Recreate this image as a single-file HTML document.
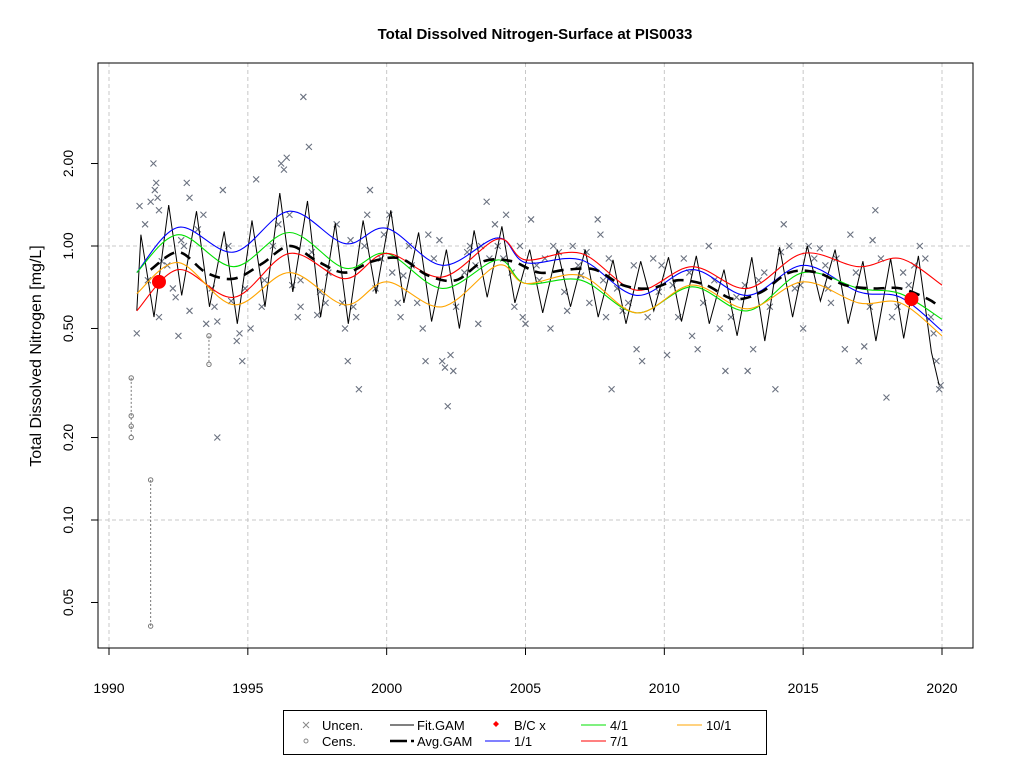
<!DOCTYPE html>
<html><head><meta charset="utf-8"><style>
body{margin:0;background:#fff;}
svg{display:block;font-family:"Liberation Sans",Arial,sans-serif;}
</style></head><body>
<svg id="chart" width="1024" height="768" viewBox="0 0 1024 768"></svg>
<script>
const xTicks=[1990,1995,2000,2005,2010,2015,2020];
const yTicks=[0.05,0.10,0.20,0.50,1.00,2.00];
const yTickLabels=["0.05","0.10","0.20","0.50","1.00","2.00"];
const uncen=[[1991.0,0.48],[1991.1,1.4],[1991.3,1.2],[1991.4,0.75],[1991.5,1.45],[1991.6,2.0],[1991.65,1.6],[1991.7,1.7],[1991.75,1.5],[1991.8,1.35],[1991.8,0.55],[1991.9,0.88],
[1992.1,0.85],[1992.3,0.7],[1992.4,0.65],[1992.5,0.47],[1992.6,1.05],[1992.7,1.0],[1992.8,1.7],[1992.9,1.5],[1992.9,0.58],
[1993.2,1.15],[1993.4,1.3],[1993.5,0.52],[1993.7,0.7],[1993.8,0.6],[1993.9,0.53],[1993.9,0.2],
[1994.1,1.6],[1994.3,1.0],[1994.4,0.63],[1994.6,0.45],[1994.7,0.48],[1994.8,0.38],[1994.9,0.7],
[1995.1,0.5],[1995.3,1.75],[1995.6,0.75],[1995.9,1.0],[1995.5,0.6],
[1996.1,1.2],[1996.2,2.0],[1996.3,1.9],[1996.4,2.1],[1996.5,1.3],[1996.6,0.72],[1996.8,0.55],[1996.9,0.6],[1996.9,0.75],
[1997.0,3.5],[1997.2,2.3],[1997.3,0.95],[1997.5,0.56],[1997.6,0.68],[1997.8,0.62],[1997.9,0.8],
[1998.2,1.2],[1998.4,0.62],[1998.5,0.5],[1998.6,0.38],[1998.7,1.05],[1998.8,0.6],[1998.9,0.55],
[1999.0,0.3],[1999.2,1.0],[1999.3,1.3],[1999.4,1.6],[1999.6,0.7],[1999.8,0.9],[1999.9,1.1],
[2000.1,1.3],[2000.2,0.8],[2000.4,0.62],[2000.5,0.55],[2000.6,0.78],[2000.8,1.0],[2000.9,0.85],
[2001.1,0.62],[2001.3,0.5],[2001.4,0.38],[2001.5,1.1],[2001.7,0.9],[2001.9,1.05],
[2002.0,0.38],[2002.1,0.36],[2002.2,0.26],[2002.3,0.4],[2002.4,0.35],[2002.5,0.6],[2002.8,0.8],[2002.9,0.95],
[2003.0,1.0],[2003.2,0.85],[2003.3,0.52],[2003.4,1.0],[2003.6,1.45],[2003.7,0.9],[2003.9,1.2],
[2004.0,1.0],[2004.2,0.9],[2004.3,1.3],[2004.5,0.8],[2004.6,0.6],[2004.8,1.0],[2004.9,0.55],
[2005.0,0.52],[2005.2,1.25],[2005.4,0.85],[2005.5,0.75],[2005.7,0.9],[2005.9,0.5],
[2006.0,1.0],[2006.2,0.95],[2006.4,0.68],[2006.5,0.58],[2006.7,1.0],[2006.9,0.85],
[2007.0,0.78],[2007.2,0.95],[2007.3,0.62],[2007.6,1.25],[2007.7,1.1],[2007.8,0.75],[2007.9,0.55],
[2008.0,0.9],[2008.1,0.3],[2008.3,0.7],[2008.5,0.58],[2008.7,0.62],[2008.9,0.85],
[2009.0,0.42],[2009.2,0.38],[2009.4,0.55],[2009.6,0.9],[2009.8,0.68],[2009.9,0.85],
[2010.1,0.4],[2010.3,0.72],[2010.5,0.55],[2010.7,0.9],[2010.9,0.8],
[2011.0,0.47],[2011.2,0.42],[2011.4,0.62],[2011.6,1.0],[2011.8,0.75],
[2012.0,0.5],[2012.2,0.35],[2012.4,0.55],[2012.6,0.65],[2012.9,0.72],
[2013.0,0.35],[2013.2,0.42],[2013.4,0.75],[2013.6,0.8],[2013.8,0.6],
[2014.0,0.3],[2014.2,0.95],[2014.3,1.2],[2014.5,1.0],[2014.7,0.7],[2014.9,0.72],
[2015.0,0.5],[2015.2,1.0],[2015.4,0.9],[2015.6,0.98],[2015.8,0.85],[2015.9,0.7],
[2016.0,0.62],[2016.2,0.9],[2016.5,0.42],[2016.7,1.1],[2016.9,0.8],
[2017.0,0.38],[2017.2,0.43],[2017.4,0.6],[2017.5,1.05],[2017.6,1.35],[2017.8,0.9],
[2018.0,0.28],[2018.2,0.55],[2018.4,0.6],[2018.6,0.8],[2018.8,0.72],
[2019.0,0.85],[2019.2,1.0],[2019.4,0.9],[2019.6,0.55],[2019.7,0.48],[2019.8,0.38],[2019.9,0.3],[2019.95,0.31]];
const censGroups=[[1990.8,[0.33,0.24,0.22,0.20]],[1991.5,[0.14,0.041]],[1993.6,[0.47,0.37]]];
const bcPoints=[[1991.8,0.74],[2018.9,0.64]];
const fitYears=[1991,1992,1993,1994,1995,1996,1997,1998,1999,2000,2001,2002,2003,2004,2005,2006,2007,2008,2009,2010,2011,2012,2013,2014,2015,2016,2017,2018,2019];
const fitPeaks=[1.1,1.41,1.34,1.13,1.24,1.56,1.46,1.21,1.24,1.35,1.12,0.97,1.14,1.18,0.97,0.97,0.97,0.89,0.88,0.91,0.92,0.82,0.91,0.99,1.0,0.97,0.88,0.9,0.92];
const fitTroughs=[0.55,0.66,0.6,0.52,0.6,0.68,0.55,0.52,0.67,0.62,0.53,0.5,0.65,0.62,0.57,0.6,0.55,0.52,0.58,0.53,0.52,0.47,0.45,0.55,0.63,0.52,0.45,0.46,0.41];
const fitStart=[1991.0,0.58];
const fitEnd=[2019.9,0.31];
const avgYears=[1991.5,1992.5,1993.5,1994.5,1995.5,1996.5,1997.5,1998.5,1999.5,2000.5,2001.5,2002.5,2003.5,2004.5,2005.5,2006.5,2007.5,2008.5,2009.5,2010.5,2011.5,2012.5,2013.5,2014.5,2015.5,2016.5,2017.5,2018.5,2019.5,2019.9];
const avgVals=[0.82,0.95,0.80,0.76,0.86,1.0,0.88,0.80,0.88,0.90,0.78,0.75,0.88,0.88,0.80,0.82,0.82,0.72,0.70,0.75,0.72,0.64,0.68,0.80,0.80,0.72,0.70,0.70,0.64,0.60];
const qYears=[1991,1992.5,1994.5,1996.5,1998.5,2000,2002,2004,2005,2007,2009,2011,2013,2015,2017,2018.5,2020];
const q1=[0.80,1.17,0.95,1.34,1.02,1.16,0.85,1.07,0.87,0.89,0.66,0.82,0.66,0.85,0.68,0.65,0.49];
const q4=[0.80,1.10,0.84,1.12,0.83,0.94,0.70,0.89,0.73,0.75,0.57,0.71,0.58,0.80,0.70,0.67,0.54];
const q7=[0.58,0.82,0.65,0.94,0.76,0.94,0.77,1.06,0.89,0.94,0.69,0.84,0.70,0.94,0.84,0.90,0.72];
const q10=[0.67,0.87,0.61,0.80,0.61,0.74,0.60,0.85,0.73,0.78,0.57,0.72,0.59,0.74,0.62,0.62,0.47];

const NS="http://www.w3.org/2000/svg";
const svg=document.getElementById('chart');
const X=y=>109+(y-1990)*(833/30);
const Y=v=>246-Math.log10(v)*274;
function mk(tag,attrs,parent){const e=document.createElementNS(NS,tag);for(const k in attrs)e.setAttribute(k,attrs[k]);(parent||svg).appendChild(e);return e;}
function smooth(pts){let d=`M${pts[0][0]},${pts[0][1]}`;for(let i=0;i<pts.length-1;i++){const p0=pts[i-1]||pts[i],p1=pts[i],p2=pts[i+1],p3=pts[i+2]||p2;const c1=[p1[0]+(p2[0]-p0[0])/6,p1[1]+(p2[1]-p0[1])/6],c2=[p2[0]-(p3[0]-p1[0])/6,p2[1]-(p3[1]-p1[1])/6];d+=`C${c1[0].toFixed(1)},${c1[1].toFixed(1)} ${c2[0].toFixed(1)},${c2[1].toFixed(1)} ${p2[0].toFixed(1)},${p2[1].toFixed(1)}`;}return d;}

let t=mk('text',{x:535,y:39,'text-anchor':'middle','font-size':15,'font-weight':'bold'});t.textContent='Total Dissolved Nitrogen-Surface at PIS0033';

xTicks.forEach(v=>{const g=mk('line',{x1:X(v),x2:X(v),y1:63,y2:648,stroke:'#c8c8c8','stroke-dasharray':'4,3'});
});
[0.1,1.0].forEach(v=>{const g=mk('line',{x1:98,x2:973,y1:Y(v),y2:Y(v),stroke:'#c8c8c8','stroke-dasharray':'4,3'});
});
const box=mk('rect',{x:98,y:63,width:875,height:585,fill:'none',stroke:'#000'});

xTicks.forEach(v=>{mk('line',{x1:X(v),x2:X(v),y1:648,y2:655,stroke:'#000'});
const l=mk('text',{x:X(v),y:693,'text-anchor':'middle','font-size':14});l.textContent=v;
});
yTicks.forEach((v,i)=>{mk('line',{x1:91,x2:98,y1:Y(v),y2:Y(v),stroke:'#000'});
const l=mk('text',{x:0,y:0,'text-anchor':'middle','font-size':14,transform:`translate(73,${Y(v)}) rotate(-90)`});l.textContent=yTickLabels[i];
});
t=mk('text',{x:0,y:0,'text-anchor':'middle','font-size':16,transform:'translate(41,356) rotate(-90)'});t.textContent='Total Dissolved Nitrogen [mg/L]';


const pg=mk('g',{stroke:'#6b7280','stroke-width':1.1});

uncen.forEach(p=>{const cx=X(p[0]),cy=Y(p[1]);mk('path',{d:`M${cx-3},${cy-3}L${cx+3},${cy+3}M${cx-3},${cy+3}L${cx+3},${cy-3}`},pg);});
const cg=mk('g',{stroke:'#777',fill:'none'});

censGroups.forEach(g=>{const cx=X(g[0]);const ys=g[1].map(Y);mk('line',{x1:cx,x2:cx,y1:Math.min(...ys),y2:Math.max(...ys),'stroke-dasharray':'2,2'},cg);ys.forEach(cy=>mk('circle',{cx:cx,cy:cy,r:2.2},cg));});

const fitPts=[[X(fitStart[0]),Y(fitStart[1])]];
fitYears.forEach((yr,i)=>{fitPts.push([X(yr+0.15),Y(fitPeaks[i])]);fitPts.push([X(yr+0.62),Y(fitTroughs[i])]);});
fitPts.push([X(fitEnd[0]),Y(fitEnd[1])]);
const fit=mk('polyline',{points:fitPts.map(p=>p[0].toFixed(1)+','+p[1].toFixed(1)).join(' '),fill:'none',stroke:'#000','stroke-width':1});

[[q1,'#0000ff','line-1-1'],[q4,'#00e000','line-4-1'],[q7,'#ff0000','line-7-1'],[q10,'#ffa500','line-10-1']].forEach(s=>{
const p=mk('path',{d:smooth(qYears.map((yr,i)=>[X(yr),Y(s[0][i])])),fill:'none',stroke:s[1],'stroke-width':1.1});
});
const av=mk('path',{d:smooth(avgYears.map((yr,i)=>[X(yr),Y(avgVals[i])])),fill:'none',stroke:'#000','stroke-width':2.6,'stroke-dasharray':'11,7'});

bcPoints.forEach(p=>{const c=mk('circle',{cx:X(p[0]),cy:Y(p[1]),r:7,fill:'#ff0000'});
});

const lg=mk('g',{'font-size':13});

mk('rect',{x:283.5,y:710.5,width:483,height:44,fill:'#fff',stroke:'#000'},lg);
function lt(x,y,s){const e=mk('text',{x:x,y:y},lg);e.textContent=s;return e;}
mk('path',{d:'M303,722L309,728M303,728L309,722',stroke:'#888'},lg);lt(322,730,'Uncen.');
mk('circle',{cx:306,cy:741,r:2,fill:'none',stroke:'#888'},lg);lt(322,746,'Cens.');
mk('line',{x1:390,x2:414,y1:725,y2:725,stroke:'#000'},lg);lt(417,730,'Fit.GAM');
mk('path',{d:'M390,741H407M411,741H414',stroke:'#000','stroke-width':2.5},lg);lt(417,746,'Avg.GAM');
mk('path',{d:'M496,721L499,724L496,727L493,724Z',fill:'#ff0000'},lg);lt(514,730,'B/C x');
mk('line',{x1:485,x2:510,y1:741,y2:741,stroke:'#0000ff'},lg);lt(514,746,'1/1');
mk('line',{x1:581,x2:606,y1:725,y2:725,stroke:'#00e000'},lg);lt(610,730,'4/1');
mk('line',{x1:581,x2:606,y1:741,y2:741,stroke:'#ff0000'},lg);lt(610,746,'7/1');
mk('line',{x1:677,x2:702,y1:725,y2:725,stroke:'#ffa500'},lg);lt(706,730,'10/1');
</script>
</body></html>
